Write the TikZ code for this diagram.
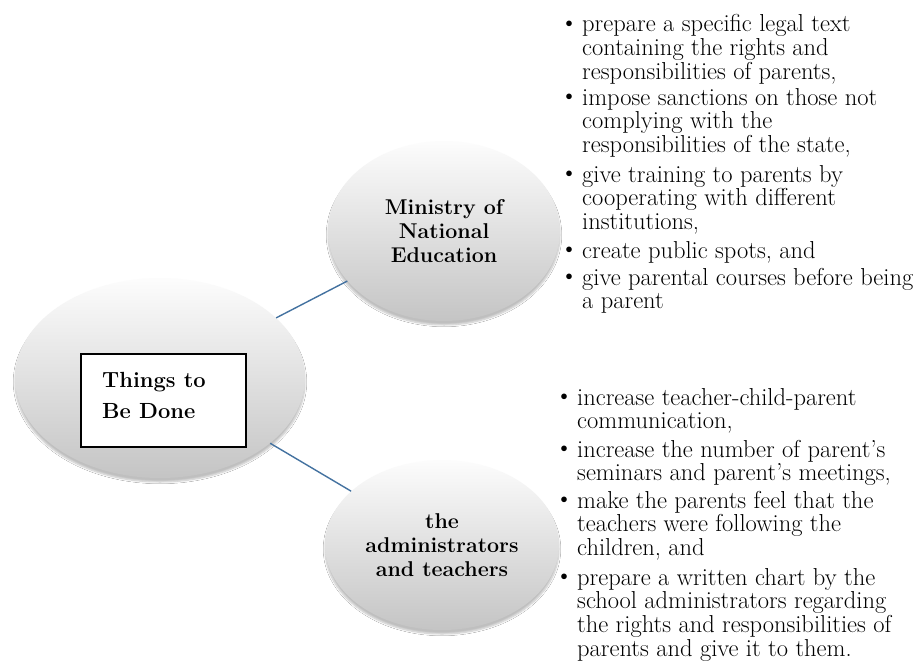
\documentclass[tikz,border=0pt]{standalone}
\usepackage{fontspec}
\usetikzlibrary{shapes.geometric,shadows.blur}
\definecolor{lineblue}{RGB}{68,114,160}
\newcommand{\bul}{\leavevmode\llap{\raisebox{1.4pt}{\fontsize{25pt}{25pt}\selectfont\textbullet}\hspace{4pt}}}
\begin{document}
\begin{tikzpicture}[x=1pt,y=-1pt,
  bubble/.style={ellipse, inner sep=0pt, top color=black!1, middle color=black!5, bottom color=black!23,
    blur shadow={shadow xshift=0pt, shadow yshift=-4pt, shadow opacity=25, shadow blur steps=6}},
  conn/.style={draw=lineblue, line width=1.4pt},
  head/.style={font=\bfseries\fontsize{21.4pt}{24pt}\selectfont, align=center},
  item/.style={anchor=base west, align=left, inner sep=0pt, font=\fontsize{24.5pt}{23.7pt}\selectfont},
  framebox/.style={draw=black, line width=1.5pt, fill=white, inner sep=0pt, minimum width=165pt, minimum height=93pt}
]
\useasboundingbox (0,0) rectangle (918,661);
\fill[white] (0,0) rectangle (918,661);

\node[bubble, minimum width=290pt, minimum height=200pt] (big) at (160,378) {};
\node[bubble, head, minimum width=232pt, minimum height=180pt] (min) at (444,231) {Ministry of\\National\\Education};
\node[bubble, head, minimum width=234pt, minimum height=170pt] (adm) at (442,545) {the\\administrators\\and teachers};

\draw[conn] (big) -- (min);
\draw[conn] (big) -- (adm);

\node[framebox] (box) at (163.5,400.5) {};
\node[anchor=base west, align=left, inner sep=0pt, font=\bfseries\fontsize{21.9pt}{31pt}\selectfont] (tbd) at (102,418) {Things to\\Be Done};

% base anchor = baseline of the last line
\node[item] (m1) at (582,79.4) {\bul prepare a specific legal text\\containing the rights and\\responsibilities of parents,};
\node[item] (m2) at (582,152.4) {\bul impose sanctions on those not\\complying with the\\responsibilities of the state,};
\node[item] (m3) at (582,229.4) {\bul give training to parents by\\cooperating with different\\institutions,};
\node[item] (m4) at (582,258) {\bul create public spots, and};
\node[item] (m5) at (582,308.7) {\bul give parental courses before being\\a parent};

\node[item] (a1) at (577,428.7) {\bul increase teacher-child-parent\\communication,};
\node[item] (a2) at (577,480.7) {\bul increase the number of parent’s\\seminars and parent’s meetings,};
\node[item] (a3) at (577,555.4) {\bul make the parents feel that the\\teachers were following the\\children, and};
\node[item] (a4) at (577,656.1) {\bul prepare a written chart by the\\school administrators regarding\\the rights and responsibilities of\\parents and give it to them.};
\end{tikzpicture}
\end{document}
